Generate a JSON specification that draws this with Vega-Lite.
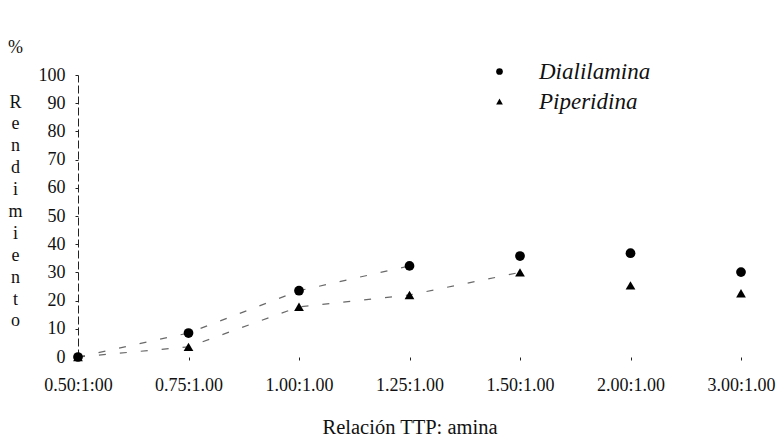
{
  "$schema": "https://vega.github.io/schema/vega-lite/v6.json",
  "width": 663,
  "height": 282,
  "autosize": "none",
  "padding": {"left": 78, "top": 75, "right": 43, "bottom": 84},
  "background": "white",
  "title": {
    "text": "%",
    "anchor": "start",
    "frame": "group",
    "orient": "top",
    "dx": -70,
    "offset": -11,
    "baseline": "alphabetic",
    "font": "Liberation Serif",
    "fontSize": 18,
    "fontWeight": "normal",
    "color": "#111"
  },
  "config": {
    "view": {"stroke": null},
    "font": "Liberation Serif",
    "axis": {"labelFont": "Liberation Serif", "titleFont": "Liberation Serif"},
    "legend": {"labelFont": "Liberation Serif", "titleFont": "Liberation Serif"}
  },
  "data": {
    "values": [
      {"relacion": "0.50:1:00", "orden": 0, "serie": "Dialilamina", "rendimiento": 0},
      {"relacion": "0.75:1.00", "orden": 1, "serie": "Dialilamina", "rendimiento": 8.5},
      {"relacion": "1.00:1.00", "orden": 2, "serie": "Dialilamina", "rendimiento": 23.5},
      {"relacion": "1.25:1.00", "orden": 3, "serie": "Dialilamina", "rendimiento": 32.3},
      {"relacion": "1.50:1.00", "orden": 4, "serie": "Dialilamina", "rendimiento": 35.8},
      {"relacion": "2.00:1.00", "orden": 5, "serie": "Dialilamina", "rendimiento": 36.8},
      {"relacion": "3.00:1.00", "orden": 6, "serie": "Dialilamina", "rendimiento": 30.1},
      {"relacion": "0.50:1:00", "orden": 0, "serie": "Piperidina", "rendimiento": 0},
      {"relacion": "0.75:1.00", "orden": 1, "serie": "Piperidina", "rendimiento": 3.6},
      {"relacion": "1.00:1.00", "orden": 2, "serie": "Piperidina", "rendimiento": 17.8},
      {"relacion": "1.25:1.00", "orden": 3, "serie": "Piperidina", "rendimiento": 22},
      {"relacion": "1.50:1.00", "orden": 4, "serie": "Piperidina", "rendimiento": 30},
      {"relacion": "2.00:1.00", "orden": 5, "serie": "Piperidina", "rendimiento": 25.4},
      {"relacion": "3.00:1.00", "orden": 6, "serie": "Piperidina", "rendimiento": 22.6}
    ]
  },
  "encoding": {
    "x": {
      "field": "relacion",
      "type": "ordinal",
      "sort": {"field": "orden"},
      "scale": {"type": "point", "padding": 0},
      "axis": {
        "title": "Relación TTP: amina",
        "titleFont": "Liberation Serif",
        "titleFontSize": 20.5,
        "titleFontWeight": "normal",
        "titleColor": "#111",
        "titlePadding": 23,
        "labelFont": "Liberation Serif",
        "labelAngle": 0,
        "labelFontSize": 18,
        "labelColor": "#111",
        "labelPadding": 16,
        "domain": false,
        "tickSize": 3,
        "tickColor": "#222",
        "grid": false
      }
    },
    "y": {
      "field": "rendimiento",
      "type": "quantitative",
      "scale": {"domain": [0, 100], "nice": false},
      "axis": {
        "title": ["R", "e", "n", "d", "i", "m", "i", "e", "n", "t", "o"],
        "titleFont": "Liberation Serif",
        "titleAngle": 0,
        "titleAlign": "center",
        "titleBaseline": "top",
        "titleX": -63,
        "titleY": 18,
        "titleLineHeight": 21.9,
        "titleFontSize": 18,
        "titleFontWeight": "normal",
        "titleColor": "#111",
        "values": [0, 10, 20, 30, 40, 50, 60, 70, 80, 90, 100],
        "labelFont": "Liberation Serif",
        "labelFontSize": 18,
        "labelColor": "#111",
        "labelPadding": 10,
        "tickSize": 3,
        "tickColor": "#222",
        "domainColor": "#222",
        "domainDash": [8, 3],
        "grid": false
      }
    }
  },
  "layer": [
    {
      "transform": [
        {"filter": "(datum.serie == 'Dialilamina' && datum.orden <= 3) || (datum.serie == 'Piperidina' && datum.orden <= 4)"}
      ],
      "mark": {"type": "line", "color": "#444", "strokeWidth": 1.2, "strokeDash": [7, 14], "opacity": 0.8},
      "encoding": {"detail": {"field": "serie"}}
    },
    {
      "mark": {"type": "point", "filled": true, "color": "black", "opacity": 1},
      "encoding": {
        "shape": {
          "field": "serie",
          "type": "nominal",
          "scale": {"domain": ["Dialilamina", "Piperidina"], "range": ["circle", "triangle-up"]},
          "legend": {
            "title": null,
            "orient": "none",
            "legendX": 410,
            "legendY": -15,
            "symbolSize": 45,
            "symbolFillColor": "black",
            "symbolStrokeColor": "black",
            "labelFont": "Liberation Serif",
            "labelFontSize": 23,
            "labelFontStyle": "italic",
            "labelColor": "#111",
            "labelOffset": 28,
            "labelLimit": 300,
            "rowPadding": 6
          }
        },
        "size": {"value": 95}
      }
    }
  ]
}
